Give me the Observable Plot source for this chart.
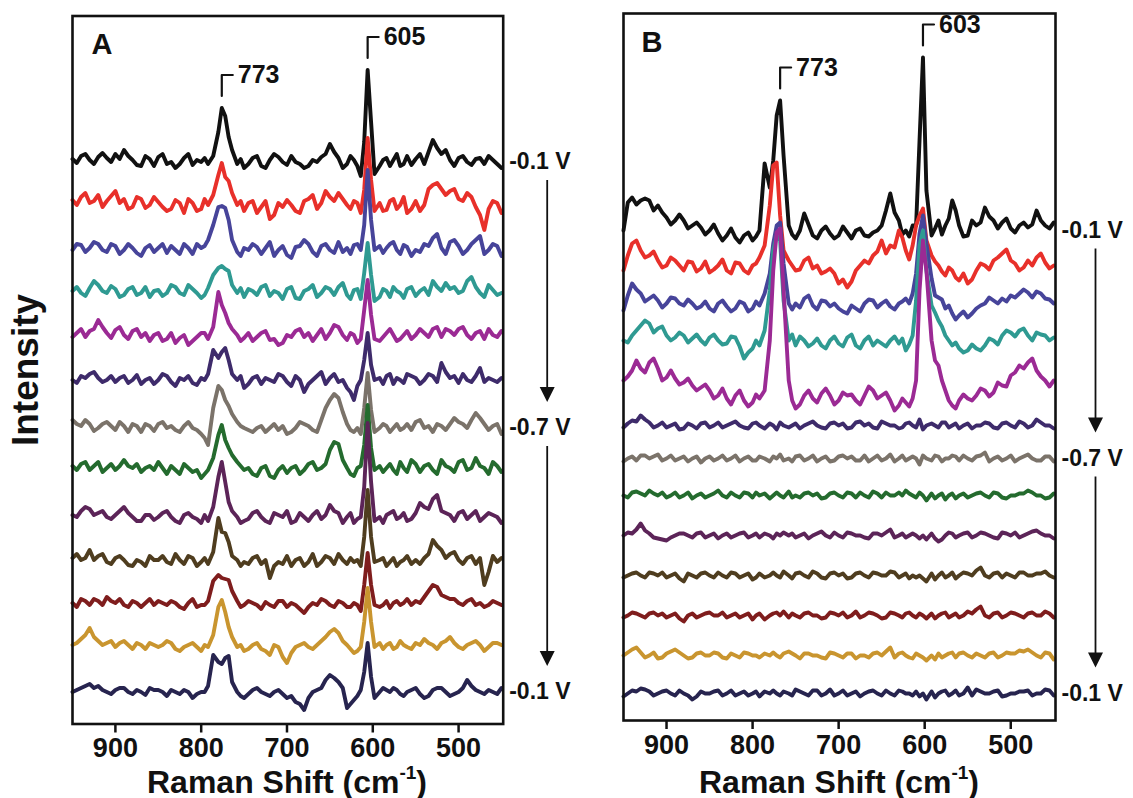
<!DOCTYPE html>
<html><head><meta charset="utf-8">
<script src="https://cdn.jsdelivr.net/npm/d3@7"></script>
<script src="https://cdn.jsdelivr.net/npm/@observablehq/plot@0.6"></script>
<style>
body{margin:0;background:#fff;overflow:hidden;}
#wrap{position:relative;width:1133px;height:798px;font-family:"Liberation Sans",Arial,Helvetica,sans-serif;color:#111;}
#wrap svg{position:absolute;top:0;overflow:visible;}
.xt{position:absolute;width:420px;text-align:center;font-weight:bold;font-size:32px;line-height:34px;top:765px;white-space:nowrap;}
.xt sup{font-size:19px;line-height:0;vertical-align:0.75em;}
</style></head><body><div id="wrap"></div>
<script>
// Raman shift sampling grids (cm-1)
const shifts = [950,940,930,920,910,900,890,880,870,860, 850,840,830,820,810,800, 792,786,780,776,772,768,764,758,750, 740,730,720,710,700,690,680,670,660,650,640,630, 622,614,610,606,602,598,592,584,576,568,560,550, 540,530,520,510,500,490,480,470,460,450];
const midShifts = [945,935,925,915,905,895,885,875,865,855,845,835,825,815,805, 796,754, 745,735,725,715,705,695,685,675,665,655,645,635, 626,618,588,580,572,564,555, 545,535,525,515,505,495,485,475,465,455];

const colors = ["#111111","#e8302a","#47449a","#2f9a92","#9b2a94","#3e2b6b","#7b736a","#246b2e","#5c2458","#4f3d1f","#7f1d1d","#c9952f","#27244f"];
const voltLabels = ["-0.1 V","-0.7 V","-0.1 V"];
const voltIndex = [0, 6, 12];
const xTicks = [900, 800, 700, 600, 500];

// Panel A: stacking offsets and spectra (intensity, arb. units)
const offsetsA = [562, 519, 474, 431, 389, 344, 296, 254, 207, 162, 119, 77, 32];
const peaksA = [773, 605];
const aBlack   = [3,6,2,5,4,8,12,2,-4,3, 5,-2,-6,4,-3,0, -2,6,30,54,46,25,12,-2,-6, 4,-4,2,5,-3,0,-6,2,5,18,4,-2, 2,-14,20,92,40,-12,-4,4,2,-4,6,3, -2,22,8,2,4,0,3,-2,2,-6];
const aRed     = [5,8,2,10,4,14,6,-2,6,0, 3,-6,5,-8,2,-4, 0,10,30,42,28,24,12,0,-6, 4,-2,-14,2,5,-6,4,10,2,8,12,0, 4,-8,15,67,25,-6,2,-5,6,0,-8,4, 0,20,16,14,6,12,-2,-25,4,-8];
const aBlue    = [0,5,2,6,-2,4,0,2,-6,5, 2,-3,0,6,-4,2, 10,25,43,44,42,30,10,-2,2, 6,-4,8,0,-5,3,10,-2,4,0,8,2, 5,0,25,80,30,0,4,2,8,-4,3,0, 6,12,2,8,4,0,10,-4,6,-6];
const aTeal    = [2,0,5,8,0,4,-2,6,0,-4, 3,0,6,-2,4,-5, 5,18,25,27,24,22,8,0,-4, 2,6,-3,0,4,-5,2,8,0,4,6,-2, 3,-6,20,50,18,-8,-4,2,6,0,4,-3, 5,12,2,4,0,12,6,-4,3,0];
const aMagenta = [-2,6,4,15,2,5,0,4,-2,-6, 2,-4,-8,0,-6,2, -4,8,43,30,22,12,6,0,-3, -6,2,-5,-10,0,4,-2,-6,6,2,8,-5, 0,-4,25,55,20,-4,-6,2,0,-4,4,0, 2,6,-2,4,6,0,2,-4,0,4];
const aIndigo  = [0,4,6,2,0,-2,4,0,-4,2, 0,4,-6,0,-3,2, 6,30,22,28,32,20,6,0,-8, 2,-4,0,6,-2,4,-12,0,8,2,-2,-8, -20,0,20,47,15,0,2,4,-4,0,6,2, 0,4,17,2,-3,0,4,-2,0,2];
const aGray    = [8,2,4,0,6,-2,2,4,-4,2, 4,0,-2,2,0,-6, -17,20,42,38,28,22,14,6,0, -4,2,0,-2,-6,0,4,-2,8,28,30,4, -4,-6,20,55,18,-4,0,2,0,-2,4,6, 0,-4,2,4,6,0,15,4,2,-6];
const aGreen   = [4,6,0,8,2,0,10,2,-2,4, 8,-4,0,6,-2,-8, 0,12,35,45,30,22,15,8,0, -4,2,-6,0,-3,4,0,8,2,20,26,2, -6,4,25,65,22,0,4,2,0,8,-2,6, 4,0,10,2,8,0,12,2,8,-2];
const aPlum    = [2,6,8,4,0,2,10,0,-4,2, 0,6,-4,2,0,-6, -4,10,40,55,35,15,6,0,-4, 4,0,-6,2,6,-4,0,2,-2,12,4,0, -6,0,30,94,35,-4,0,2,6,0,-4,4, 10,18,6,2,4,-2,6,0,2,-6];
const aBrown   = [4,2,12,6,0,4,2,-4,0,6, 2,0,8,-2,4,0, -2,10,44,30,29,20,6,2,0, 4,-2,-16,0,6,2,-4,8,0,4,8,-2, 0,-4,25,72,25,0,2,-4,4,0,6,2, 4,22,12,8,2,4,-2,-23,6,4];
const aMaroon  = [2,6,0,4,8,2,0,4,-2,6, 4,0,2,-4,6,0, 4,24,30,27,26,25,14,4,0, 2,-4,0,4,-2,0,-8,2,6,0,4,-2, 2,-6,20,52,20,0,-2,4,2,0,6,4, 8,20,10,6,2,4,0,-2,4,0];
const aGold    = [2,8,19,6,4,0,6,-2,2,4, 0,6,-2,0,4,-4, 0,12,40,47,35,20,10,0,-4, 2,-2,-8,0,-16,0,4,-2,6,15,14,2, -6,0,25,59,25,0,4,2,-2,6,0,4, 8,2,4,10,0,2,6,-4,4,2];
const aNavy    = [0,4,8,6,0,2,4,-2,0,4, 2,-4,0,2,-6,0, 6,37,30,28,34,36,10,0,-6, 2,0,-4,2,-6,-10,-18,0,4,17,10,-16, -8,2,20,49,15,-6,0,2,4,-2,0,4, -6,2,4,-4,0,12,2,-2,0,4];
// Panel A values at the in-between shifts (midShifts)
const aBlackM   = [-1,8,-2,9,0,3,6,-3,6,-4,8,0,-2,8,2, 4,3, -2,6,-6,8,0,6,-2,-4,0,8,10,-6, 6,-4,2,-4,8,-2,-3, 8,10,14,12,-4,6,-3,4,6,-2];
const aRedM     = [0,12,4,-2,9,2,-4,8,-3,8,-2,-4,2,6,-6, 6,4, 2,-8,4,-10,-2,0,-8,6,-4,14,4,6, -4,2,-6,4,-4,8,-4, -6,16,22,10,16,4,8,-10,-4,2];
const aBlueM    = [6,-2,8,0,6,-4,6,-3,2,-2,6,4,-4,2,6, 4,-6, 0,3,2,-6,4,-8,4,6,-6,6,-3,-2, -4,6,-3,6,0,5,-6, -2,4,16,-4,10,-4,6,14,0,4];
const aTealM    = [6,-3,12,2,7,-4,4,-2,6,2,-3,8,0,8,0, -2,5, 4,-2,8,2,-6,6,-6,4,-4,6,-2,10, -6,4,4,-4,2,-5,6, 2,-2,6,10,6,2,16,0,8,-2];
const aMagentaM = [2,-2,6,8,-3,8,-4,6,2,0,-6,2,-3,-10,-2, 2,-6, 2,-2,4,-4,-8,-2,6,2,0,-4,10,0, 2,-8,-2,6,-6,0,-4, 6,-2,8,6,0,8,-4,4,6,-2];
const aIndigoM  = [-3,2,8,-2,4,2,-3,5,0,-4,6,-2,2,4,-5, 0,4, -4,4,2,-2,4,-6,0,-4,4,-4,6,0, -12,-6,-4,6,2,-3,4, -4,6,-2,8,4,6,-2,12,2,-2];
const aGrayM    = [4,8,-3,4,2,6,-4,2,4,-3,6,2,-4,6,-2, -10,2, -2,0,-4,4,2,-4,6,2,-4,20,34,16, -2,0,4,-4,4,0,-2, 8,2,4,-2,10,4,8,10,-2,4];
const aGreenM   = [0,8,4,-2,6,4,4,6,2,0,2,4,-4,2,0, -4,4, 2,-6,4,-8,4,2,-4,6,0,6,28,10, -4,2,-2,6,-4,2,10, -2,6,-4,4,-2,10,2,4,-4,4];
const aPlumM    = [0,10,2,6,-2,6,4,-4,2,-3,4,0,-6,4,-2, 2,-6, -2,6,-4,4,0,-6,4,-4,6,2,6,-6, 4,-2,-6,4,-2,4,-2, 14,8,22,4,-4,6,2,-4,4,0];
const aBrownM   = [8,4,2,8,-2,6,-3,2,-4,2,6,-2,2,6,-4, 4,-4, -2,6,2,-4,-2,-4,4,0,-4,6,-2,2, 4,2,4,0,-4,2,-2, -2,8,16,4,10,-2,6,4,-10,0];
const aMaroonM  = [-2,4,6,0,4,6,-2,2,2,0,2,4,-2,2,-2, 0,-2, 4,0,3,-2,4,2,-4,-2,0,4,-2,2, -2,0,0,-3,4,2,0, 2,14,18,8,6,0,6,2,0,2];
const aGoldM    = [4,12,10,2,6,4,2,4,-2,2,2,4,-4,2,0, 2,2, -2,4,-4,2,-10,-6,2,0,2,10,18,6, -2,-4,-2,4,0,2,-2, 2,4,-2,6,4,-2,4,2,0,4];
const aNavyM    = [2,6,4,2,-2,4,0,2,-3,2,0,2,-2,0,-2, 0,-4, -2,4,-2,0,-2,-4,-12,-6,2,12,14,4, -12,-4,4,0,2,-4,2, -2,-4,4,0,-2,4,6,0,2,-2];

// Panel B
const offsetsB = [490, 455, 417, 380, 330, 295, 262, 225, 185, 145, 105, 65, 27];
const peaksB = [773, 603];
const bBlack   = [0,33,30,30,25,13,10,10,5,3, 0,-3,-5,-7,-5,-10, 0,67,43,70,115,130,75,5,-8, 17,-5,0,-3,-5,-2,0,-5,-2,5,37,10, 0,5,5,90,173,40,-5,10,5,30,5,-5, 5,23,10,8,2,5,3,20,5,8];
const bRed     = [-5,22,15,10,5,0,5,-5,3,-3, -7,0,-5,3,-5,0, 8,20,60,100,103,50,15,5,-5, 5,-3,-8,-3,-18,-22,-5,5,10,25,20,35, 15,20,40,50,57,25,10,0,-10,-5,-15,-18, -5,0,5,12,5,-5,5,8,3,0];
const bBlue    = [-7,20,10,5,3,0,5,-2,0,-3, -5,0,-3,-5,0,-5, -2,10,30,60,78,81,40,0,0, 5,-2,3,-3,-5,-10,-5,0,3,0,-3,0, 5,10,30,70,88,60,25,6,-5,-10,-12,-14, -5,0,3,5,8,10,11,12,5,0];
const bTeal    = [0,5,15,17,12,5,3,5,2,0, 3,0,-3,3,-18,-8, -5,10,50,90,105,100,40,0,-5, 0,-3,-5,0,-3,3,-5,0,-5,-3,0,-3, -10,5,40,95,110,70,35,20,5,-5,-8,-10, -8,-5,0,5,8,10,5,8,5,3];
const bMagenta = [10,20,22,28,22,13,12,8,5,3, 0,-5,-8,-5,-10,-12, -8,0,50,120,158,162,100,10,-18, -5,-8,-3,-5,-10,-5,-10,-5,0,-5,-10,-15, -12,-8,10,100,150,120,50,25,0,-15,-10,-8, -5,0,-2,5,15,25,28,20,10,10];
const bIndigo  = [-2,5,10,3,0,-2,2,-3,0,2, -2,3,0,4,-2,2, 0,-3,2,0,-4,3,0,-2,2, 0,4,-2,2,0,-3,3,0,-2,4,0,-3, 2,0,-2,6,-4,0,2,-2,3,0,-3,2, 0,3,-2,2,0,4,-2,6,0,-3];
const bGray    = [-3,2,3,0,4,0,-2,2,0,-4, 2,0,-2,3,0,-2, 2,0,-3,2,0,4,-2,0,2, -2,3,0,-3,2,0,-2,3,0,-2,4,0, -2,2,0,-6,3,0,-2,2,0,3,-2,0, 2,6,0,-2,3,0,4,-2,2,-3];
const bGreen   = [0,3,2,5,0,-2,3,0,-3,2, 0,5,-2,0,3,-2, 0,2,-3,0,3,0,-2,4,0, 2,0,-3,2,0,3,-2,0,4,-2,0,3, 5,0,-2,3,0,-5,2,0,-4,2,0,-2, 2,0,3,-2,0,2,5,0,-3,2];
const bPlum    = [0,2,12,2,-3,-5,0,2,-2,3, 0,-3,2,0,3,0, -2,2,0,-3,2,0,3,0,-2, 2,0,4,-2,0,3,0,-2,2,0,6,0, -2,2,0,-3,0,-4,2,-6,0,2,0,3, 0,2,-2,3,0,-2,2,5,0,-3];
const bBrown   = [-2,2,0,3,0,-2,2,-6,0,2, 0,3,-2,2,0,-4, 2,-2,0,3,0,-2,4,0,2, 0,4,-2,2,0,-3,2,0,3,0,4,-2, 2,0,-2,0,-3,-6,2,0,-2,3,0,2, 5,0,2,-2,0,3,0,2,4,-2];
const bMaroon  = [-2,3,0,2,0,-2,2,-6,2,0, 3,0,-2,2,0,-4, 2,-4,0,2,3,0,4,-2,0, 2,0,-3,3,0,-2,4,0,2,-3,3,0, 2,0,-2,2,0,-3,2,0,3,0,-2,4, 6,0,2,-2,3,0,2,0,4,-2];
const bGold    = [0,6,3,0,-3,2,6,0,-2,3, 0,2,-3,0,3,0, -2,2,0,3,0,-2,2,4,0, 2,0,-2,3,0,2,-3,0,2,0,8,2, 0,-3,2,0,-2,-5,0,2,0,3,2,0, 2,-2,3,0,2,5,6,0,3,-4];
const bNavy    = [-3,3,5,2,0,3,-2,0,-6,2, 0,3,0,-2,2,0, -3,2,0,3,0,-2,2,0,4, 0,3,-2,4,0,-2,2,0,3,-2,0,3, 0,-2,2,-3,0,-6,2,0,3,0,-2,6, 4,0,2,-3,0,2,3,0,4,-2];
// Panel B values at the in-between shifts (midShifts)
const bBlackM   = [28,26,32,20,18,6,16,2,8,-4,6,-10,2,-12,-2, -6,-4, 0,6,-8,4,-8,4,-8,2,-6,0,20,18, -4,-6,2,-4,12,20,-6, 10,8,14,2,12,-2,8,6,10,2];
const bRedM     = [10,25,8,14,-2,8,0,4,-6,4,-4,6,-8,2,-8, 2,0, -4,8,0,-6,-8,-14,-16,0,2,14,12,18, 28,6,4,-6,-2,-12,-8, -14,2,-4,8,16,2,-2,0,12,-3];
const bBlueM    = [8,14,2,8,-4,6,0,4,-5,2,-8,3,-8,2,-8, 2,-6, -4,8,-6,2,0,-8,-2,-8,4,-4,3,-6, 2,0,8,4,-2,-16,-8, -10,-2,6,0,2,6,14,6,10,4];
const bTealM    = [-2,10,20,8,14,0,8,-2,6,-4,6,-4,4,-6,-12, 0,6, 4,-6,2,-8,4,-6,6,-8,4,0,-6,4, 2,-4,28,14,0,-2,-12, -4,-10,2,-4,10,4,12,0,6,0];
const bMagentaM = [14,30,18,32,10,20,6,12,0,6,-8,2,-14,0,-16, -4,-10, -14,0,-12,2,-14,-2,-4,-14,4,-8,-2,-20, -8,-16,30,10,-10,-18,-4, -10,2,-6,8,4,18,22,32,14,4];
const bIndigoM  = [2,4,6,-2,3,0,-4,2,-3,3,0,-2,2,0,-3, 3,0, -3,2,0,-3,3,2,-2,4,2,-3,2,0, -2,3,0,3,-2,2,0, -3,0,2,-3,3,-2,2,0,3,0];
const bGrayM    = [0,-2,3,2,-2,3,0,-3,2,0,-2,3,0,-3,2, -2,-3, 3,0,-3,2,-2,3,2,-2,-3,3,0,-3, 3,0,3,-3,0,2,3, -2,3,-3,2,0,-3,2,0,-2,2];
const bGreenM   = [-2,4,0,2,3,0,-2,3,0,-2,2,0,3,-2,2, 3,-2, -2,3,2,-2,3,-2,2,3,-2,2,3,0, 0,2,-3,2,0,-3,2, 0,3,-2,2,-3,0,2,3,0,-2];
const bPlumM    = [3,6,5,-2,-4,-2,2,0,2,-2,2,0,-2,2,-2, 2,2, 0,-3,2,0,3,-2,2,0,-3,2,3,-2, 2,0,-3,-4,3,-2,2, -2,3,0,-3,2,3,0,4,2,0];
const bBrownM   = [0,3,-2,2,3,0,-3,2,-2,3,-2,0,3,-2,2, -2,-3, 3,-2,2,-3,3,2,-2,3,-2,2,0,3, 0,-3,-4,3,0,-3,3, 0,8,-2,3,2,-2,3,0,2,0];
const bMaroonM  = [0,2,-2,3,2,0,-3,0,-2,2,0,3,0,-2,2, 0,2, -2,3,0,-2,2,3,0,-2,3,0,-2,2, -2,3,-3,2,-2,2,0, 2,9,-2,3,0,2,-2,3,0,2];
const bGoldM    = [3,8,-2,3,-2,4,3,-3,2,0,3,-2,2,-2,2, 0,2, -3,2,0,-3,2,-2,2,0,-2,3,4,-2, 3,-2,-4,-2,2,-2,3, -2,0,2,-2,3,2,4,3,-2,2];
const bNavyM    = [0,2,4,-2,2,0,3,-2,-3,0,2,-2,3,0,-2, 2,-2, 2,-2,3,0,-2,3,0,-3,2,0,3,-2, 2,0,-4,2,-2,3,0, -2,2,0,3,-2,0,2,-2,0,3];

const seriesA = [aBlack,aRed,aBlue,aTeal,aMagenta,aIndigo,aGray,aGreen,aPlum,aBrown,aMaroon,aGold,aNavy];
const midsA = [aBlackM,aRedM,aBlueM,aTealM,aMagentaM,aIndigoM,aGrayM,aGreenM,aPlumM,aBrownM,aMaroonM,aGoldM,aNavyM];
const seriesB = [bBlack,bRed,bBlue,bTeal,bMagenta,bIndigo,bGray,bGreen,bPlum,bBrown,bMaroon,bGold,bNavy];
const midsB = [bBlackM,bRedM,bBlueM,bTealM,bMagentaM,bIndigoM,bGrayM,bGreenM,bPlumM,bBrownM,bMaroonM,bGoldM,bNavyM];
[...seriesA, ...seriesB].forEach((s, i) => { if (s.length !== shifts.length) throw new Error("series " + i + " has " + s.length); });
[...midsA, ...midsB].forEach((s, i) => { if (s.length !== midShifts.length) throw new Error("mids " + i + " has " + s.length); });

const FONT = "Liberation Sans, Arial, Helvetica, sans-serif";
const downTriangle = {draw(ctx){ ctx.moveTo(-7.5,-15); ctx.lineTo(7.5,-15); ctx.lineTo(0,0); ctx.closePath(); }};

function panel(cfg) {
  const {series, mids, offsets, peaks, letter, width, mL, mR, mT, mB, letterDx, letterDy, arrowDx, intensity} = cfg;
  const H = 798, innerH = H - mT - mB, innerW = width - mL - mR;
  const xDomain = [950, 448];
  const unitPerPx = (xDomain[0] - xDomain[1]) / innerW;
  const marks = [];
  marks.push(Plot.axisX({ticks: xTicks, tickFormat: "d", tickSize: 9, tickPadding: 5, fontSize: 27, fontWeight: "bold", strokeWidth: 2.5, label: null, fill: "#111", stroke: "#111"}));
  series.forEach((vals, i) => {
    const data = shifts.map((x, j) => ({x, y: offsets[i] + vals[j]}))
      .concat(midShifts.map((x, j) => ({x, y: offsets[i] + mids[i][j]})))
      .sort((a, b) => b.x - a.x);
    marks.push(Plot.line(data, {x: "x", y: "y", stroke: colors[i], strokeWidth: 3.9, strokeLinejoin: "round", strokeLinecap: "round"}));
  });
  marks.push(Plot.frame({stroke: "#111", strokeWidth: 2.6}));
  // peak brackets, placed from the top spectrum's maximum near each labelled peak
  peaks.forEach((p) => {
    let bx = p, bv = -Infinity;
    shifts.forEach((x, j) => { if (Math.abs(x - p) <= 10 && series[0][j] > bv) { bv = series[0][j]; bx = x; } });
    const y0 = offsets[0] + bv + 12, y1 = y0 + 21, hx = bx - 11 * unitPerPx;
    marks.push(Plot.line([{x: bx, y: y0}, {x: bx, y: y1}, {x: hx, y: y1}], {x: "x", y: "y", stroke: "#111", strokeWidth: 2.2}));
    marks.push(Plot.text([{x: hx, y: y1, t: String(p)}], {x: "x", y: "y", text: "t", dx: 5, textAnchor: "start", lineAnchor: "middle", fontSize: 25, fontWeight: "bold", fill: "#111"}));
  });
  // potential labels and arrows
  const vl = voltIndex.map((i, k) => ({y: offsets[i], t: voltLabels[k]}));
  marks.push(Plot.text(vl, {y: "y", text: "t", frameAnchor: "right", dx: 6, textAnchor: "start", lineAnchor: "middle", fontSize: 23, fontWeight: "bold", fill: "#111"}));
  const arrows = vl.slice(0, -1).map((d, k) => ({x: xDomain[1], y1: d.y - 18, y2: vl[k + 1].y + 26}));
  marks.push(Plot.link(arrows, {x1: "x", x2: "x", y1: "y1", y2: d => d.y2 + 14, dx: arrowDx, stroke: "#111", strokeWidth: 1.8}));
  marks.push(Plot.dot(arrows, {x: "x", y: "y2", dx: arrowDx, symbol: downTriangle, fill: "#111", stroke: "none", r: 5}));
  marks.push(Plot.text([letter], {frameAnchor: "top-left", dx: letterDx, dy: letterDy, textAnchor: "start", lineAnchor: "middle", fontSize: 29, fontWeight: "bold", fill: "#111"}));
  if (intensity) marks.push(Plot.text(["Intensity"], {frameAnchor: "left", dx: -46, rotate: -90, textAnchor: "middle", lineAnchor: "middle", fontSize: 37, fontWeight: "bold", fill: "#111"}));
  return Plot.plot({
    width, height: H, marginLeft: mL, marginRight: mR, marginTop: mT, marginBottom: mB,
    x: {domain: xDomain},
    y: {domain: [0, innerH], axis: null},
    style: {fontFamily: FONT, background: "transparent", overflow: "visible", color: "#111"},
    marks
  });
}

const wrap = document.getElementById("wrap");
const svgA = panel({series: seriesA, mids: midsA, offsets: offsetsA, peaks: peaksA, letter: "A", width: 560, mL: 72, mR: 57.3, mT: 15.5, mB: 74.5, letterDx: 19, letterDy: 29, arrowDx: 44, intensity: true});
svgA.style.left = "0px";
const svgB = panel({series: seriesB, mids: midsB, offsets: offsetsB, peaks: peaksB, letter: "B", width: 573, mL: 63, mR: 78, mT: 13, mB: 78, letterDx: 18, letterDy: 29, arrowDx: 40, intensity: false});
svgB.style.left = "560px";
wrap.appendChild(svgA);
wrap.appendChild(svgB);
for (const cx of [287, 839]) {
  const d = document.createElement("div");
  d.className = "xt";
  d.style.left = (cx - 210) + "px";
  d.innerHTML = "Raman Shift (cm<sup>-1</sup>)";
  wrap.appendChild(d);
}
</script></body></html>
